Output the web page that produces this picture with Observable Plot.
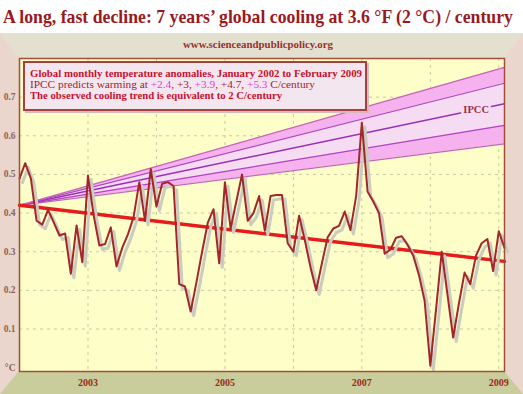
<!DOCTYPE html>
<html><head><meta charset="utf-8">
<script src="https://cdn.jsdelivr.net/npm/d3@7"></script>
<script src="https://cdn.jsdelivr.net/npm/@observablehq/plot@0.6"></script>
<style>
html,body{margin:0;padding:0;background:#fff;}
#wrap{position:relative;width:523px;height:394px;overflow:hidden;font-family:"Liberation Serif","Times New Roman",serif;}
#title{position:absolute;left:3px;top:6px;white-space:nowrap;font-weight:bold;font-size:19px;line-height:22px;color:#991a1e;transform-origin:0 0;}
#panel{position:absolute;left:0;top:33px;width:523px;height:361px;background:#ebd6cd;}
#topband{position:absolute;left:0;top:0;width:523px;height:25px;background:#e4e0cf;clip-path:polygon(0 0,100% 0,504px 100%,19px 100%);}
#botband{position:absolute;left:0;bottom:0;width:523px;height:23px;background:#c9cc9b;clip-path:polygon(19px 0,504px 0,100% 100%,0 100%);}
#url{position:absolute;top:7px;left:0;white-space:nowrap;font-weight:bold;font-size:9.5px;line-height:10px;color:#9b3030;transform-origin:0 0;}
#chart{position:absolute;left:0;top:0;}
#legend{position:absolute;left:23px;top:28px;width:340px;height:46px;border:2px solid #a44040;background:#f4e6ef;box-shadow:2px 2px 0 #d9b9b9;}
.lg{position:absolute;left:5px;white-space:nowrap;font-size:10.5px;line-height:11px;transform-origin:0 0;}
#l1{top:5px;font-weight:bold;color:#c41230;}
#l2{top:16px;color:#a0242c;}
#l3{top:27px;font-weight:bold;color:#c41230;}
.mg{color:#e03ad8;}
</style></head>
<body>
<div id="wrap">
  <div id="title">A long, fast decline: 7 years’ global cooling at 3.6 °F (2 °C) / century</div>
  <div id="panel">
    <div id="topband"></div>
    <div id="botband"></div>
    <div id="url">www.scienceandpublicpolicy.org</div>
    <div id="chart"></div>
    <div id="legend">
      <div class="lg" id="l1"></div>
      <div class="lg" id="l2"></div>
      <div class="lg" id="l3"></div>
    </div>
  </div>
</div>
<script>
// ---- data ----
const startYear = 2002;               // January 2002
const anomalies = [
  // 2002
  0.489, 0.529, 0.489, 0.38, 0.37, 0.408, 0.376, 0.342, 0.347, 0.243, 0.368, 0.273,
  // 2003
  0.497, 0.394, 0.316, 0.32, 0.363, 0.262, 0.31, 0.345, 0.39, 0.48, 0.38, 0.514,
  // 2004
  0.417, 0.476, 0.48, 0.47, 0.216, 0.21, 0.145, 0.22, 0.30, 0.375, 0.41, 0.27,
  // 2005
  0.48, 0.36, 0.43, 0.50, 0.38, 0.40, 0.444, 0.354, 0.444, 0.447, 0.447, 0.322,
  // 2006
  0.30, 0.393, 0.33, 0.26, 0.20, 0.27, 0.337, 0.36, 0.367, 0.404, 0.356, 0.444,
  // 2007
  0.634, 0.456, 0.43, 0.40, 0.295, 0.305, 0.336, 0.34, 0.318, 0.29, 0.24, 0.173,
  // 2008
  0.005, 0.15, 0.30, 0.19, 0.078, 0.165, 0.246, 0.216, 0.29, 0.322, 0.333, 0.25,
  // 2009
  0.353, 0.31
];
const trendStart = 0.42, trendEnd = 0.275;               // observed trend, ~2 C/century
const ipccRates = ["+2.4", "+3", "+3.9", "+4.7", "+5.3"];
const fanStart = 0.42;
const fanEnd = [0.579, 0.627, 0.683, 0.736, 0.777];      // values of the five IPCC lines at Feb 2009
const yTicks = [0, 0.1, 0.2, 0.3, 0.4, 0.5, 0.6, 0.7];
const xTickYears = [2003, 2005, 2007, 2009];
const gridYears = [2003, 2004, 2005, 2006, 2007, 2008, 2009];
const ipccLabelYear = 2008.67;
const titleText = "A long, fast decline: 7 years’ global cooling at 3.6 °F (2 °C) / century";
const sourceText = "www.scienceandpublicpolicy.org";
const legendLine1 = "Global monthly temperature anomalies, January 2002 to February 2009";
const legendLine2a = "IPCC predicts warming at ";
const legendLine2b = " C/century";
const legendLine3 = "The observed cooling trend is equivalent to 2 C/century";

// ---- derived tables ----
const series = anomalies.map((v, i) => ({x: startYear + i / 12, y: v}));
const endYear = series[series.length - 1].x;
const trend = [{x: startYear, y: trendStart}, {x: endYear, y: trendEnd}];
const fanLines = fanEnd.flatMap((e, k) => [{x: startYear, y: fanStart, k}, {x: endYear, y: e, k}]);
const fanOuter = [{x: startYear, lo: fanStart, hi: fanStart}, {x: endYear, lo: fanEnd[0], hi: fanEnd[4]}];
const fanInner = [{x: startYear, lo: fanStart, hi: fanStart}, {x: endYear, lo: fanEnd[1], hi: fanEnd[3]}];
const ipccLabel = [{x: ipccLabelYear, y: fanStart + (fanEnd[2] - fanStart) * (ipccLabelYear - startYear) / (endYear - startYear), t: "IPCC"}];
const lineColor = k => (k === 0 || k === 4) ? "#c567b4" : (k === 2 ? "#9a2fb8" : "#b046c0");

const chart = Plot.plot({
  width: 523, height: 361,
  marginLeft: 19, marginRight: 19, marginTop: 25, marginBottom: 23,
  style: {background: "transparent", fontFamily: "'Liberation Serif', serif", overflow: "visible"},
  x: {domain: [startYear, endYear], label: null},
  y: {domain: [-0.01, 0.8], label: null},
  marks: [
    Plot.frame({fill: "#fefec9"}),
    Plot.gridX(gridYears, {stroke: "#cdc8a4", strokeOpacity: 1, strokeDasharray: "3,4"}),
    Plot.gridY(yTicks.slice(1), {stroke: "#cdc8a4", strokeOpacity: 1, strokeDasharray: "3,4"}),
    Plot.areaY(fanOuter, {x: "x", y1: "lo", y2: "hi", fill: "#f6b2ee"}),
    Plot.areaY(fanInner, {x: "x", y1: "lo", y2: "hi", fill: "#f5dcf3"}),
    Plot.line(fanLines, {x: "x", y: "y", z: "k", stroke: d => lineColor(d.k), strokeWidth: d => d.k === 2 ? 1.6 : 1.2}),
    Plot.text(ipccLabel, {x: "x", y: "y", text: "t", fontSize: 10.5, fontWeight: "bold", fill: "#9c3046", stroke: "#f5dcf3", strokeWidth: 5}),
    Plot.line(trend, {x: "x", y: "y", stroke: "#e61b1b", strokeWidth: 3.5}),
    Plot.line(series, {x: "x", y: "y", stroke: "#cbcbbf", strokeWidth: 3, dx: 3, dy: 4}),
    Plot.line(series, {x: "x", y: "y", stroke: "#a3262a", strokeWidth: 2}),
    Plot.frame({stroke: "#a0503a", strokeWidth: 1.5}),
    Plot.axisX(xTickYears, {tickSize: 0, tickPadding: 7, tickFormat: d => String(d), fontSize: 10, fontWeight: "bold", fill: "#9b2a20"}),
    Plot.axisY(yTicks, {tickSize: 0, tickPadding: 4, tickFormat: d => d === 0 ? "°C" : d.toFixed(1), fontSize: 9.5, fontWeight: "bold", fill: "#8e6458"})
  ]
});
document.getElementById("chart").appendChild(chart);

// ---- texts ----
document.getElementById("l1").textContent = legendLine1;
const l2 = document.getElementById("l2");
l2.appendChild(document.createTextNode(legendLine2a));
ipccRates.forEach((r, i) => {
  const s = document.createElement("span");
  if (i % 2 === 0) s.className = "mg";
  s.textContent = r;
  l2.appendChild(s);
  if (i < ipccRates.length - 1) l2.appendChild(document.createTextNode(", "));
});
l2.appendChild(document.createTextNode(legendLine2b));
document.getElementById("l3").textContent = legendLine3;

function fit(el, w) {
  const a = el.getBoundingClientRect().width;
  if (a > 0) el.style.transform = `scaleX(${w / a})`;
}
fit(document.getElementById("title"), 510);
fit(document.getElementById("l1"), 332);
fit(document.getElementById("l2"), 285);
fit(document.getElementById("l3"), 252);
const url = document.getElementById("url");
fit(url, 150);
url.style.left = (258 - 75) + "px";
</script>
</body></html>
